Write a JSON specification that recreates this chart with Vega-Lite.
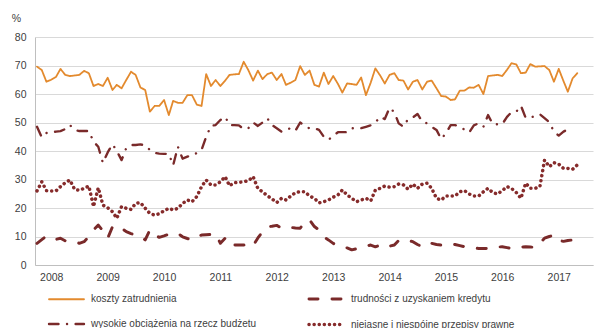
{
"$schema":"https://vega.github.io/schema/vega-lite/v6.json",
"width":558,"height":228,
"autosize":{"type":"none"},
"padding":{"left":35,"top":37,"right":3,"bottom":63},
"background":"white",
"config":{"view":{"stroke":null},"font":"Liberation Sans",
 "axis":{"labelFont":"Liberation Sans","labelFontSize":10.5,"labelColor":"#404040","ticks":false,"domainColor":"#bfbfbf","gridColor":"#d9d9d9","titleFont":"Liberation Sans"},
 "legend":{"title":null,"orient":"none","legendX":12,"legendY":243,"columns":2,"symbolType":"stroke","symbolSize":1225,"labelFontSize":10,"labelColor":"#404040","labelFont":"Liberation Sans","columnPadding":45,"rowPadding":-18,"labelOffset":5,"labelLimit":300}},
"data":{"values":[
{"d":"2007-10","s":"koszty zatrudnienia","v":69.6},{"d":"2007-11","s":"koszty zatrudnienia","v":68.4},{"d":"2007-12","s":"koszty zatrudnienia","v":64.3},
{"d":"2008-01","s":"koszty zatrudnienia","v":65.0},{"d":"2008-02","s":"koszty zatrudnienia","v":66.0},{"d":"2008-03","s":"koszty zatrudnienia","v":68.8},{"d":"2008-04","s":"koszty zatrudnienia","v":66.7},{"d":"2008-05","s":"koszty zatrudnienia","v":66.3},{"d":"2008-06","s":"koszty zatrudnienia","v":66.5},{"d":"2008-07","s":"koszty zatrudnienia","v":66.7},{"d":"2008-08","s":"koszty zatrudnienia","v":68.1},{"d":"2008-09","s":"koszty zatrudnienia","v":67.3},{"d":"2008-10","s":"koszty zatrudnienia","v":62.8},{"d":"2008-11","s":"koszty zatrudnienia","v":63.5},{"d":"2008-12","s":"koszty zatrudnienia","v":62.8},
{"d":"2009-01","s":"koszty zatrudnienia","v":65.7},{"d":"2009-02","s":"koszty zatrudnienia","v":61.4},{"d":"2009-03","s":"koszty zatrudnienia","v":63.2},{"d":"2009-04","s":"koszty zatrudnienia","v":62.0},{"d":"2009-05","s":"koszty zatrudnienia","v":64.9},{"d":"2009-06","s":"koszty zatrudnienia","v":67.8},{"d":"2009-07","s":"koszty zatrudnienia","v":66.7},{"d":"2009-08","s":"koszty zatrudnienia","v":62.3},{"d":"2009-09","s":"koszty zatrudnienia","v":61.4},{"d":"2009-10","s":"koszty zatrudnienia","v":53.8},{"d":"2009-11","s":"koszty zatrudnienia","v":55.8},{"d":"2009-12","s":"koszty zatrudnienia","v":55.8},
{"d":"2010-01","s":"koszty zatrudnienia","v":57.9},{"d":"2010-02","s":"koszty zatrudnienia","v":52.6},{"d":"2010-03","s":"koszty zatrudnienia","v":57.6},{"d":"2010-04","s":"koszty zatrudnienia","v":56.9},{"d":"2010-05","s":"koszty zatrudnienia","v":56.9},{"d":"2010-06","s":"koszty zatrudnienia","v":59.6},{"d":"2010-07","s":"koszty zatrudnienia","v":59.6},{"d":"2010-08","s":"koszty zatrudnienia","v":56.3},{"d":"2010-09","s":"koszty zatrudnienia","v":55.8},{"d":"2010-10","s":"koszty zatrudnienia","v":67.0},{"d":"2010-11","s":"koszty zatrudnienia","v":62.8},{"d":"2010-12","s":"koszty zatrudnienia","v":64.9},
{"d":"2011-01","s":"koszty zatrudnienia","v":62.8},{"d":"2011-02","s":"koszty zatrudnienia","v":64.7},{"d":"2011-03","s":"koszty zatrudnienia","v":66.7},{"d":"2011-04","s":"koszty zatrudnienia","v":66.9},{"d":"2011-05","s":"koszty zatrudnienia","v":67.0},{"d":"2011-06","s":"koszty zatrudnienia","v":71.3},{"d":"2011-07","s":"koszty zatrudnienia","v":68.4},{"d":"2011-08","s":"koszty zatrudnienia","v":64.7},{"d":"2011-09","s":"koszty zatrudnienia","v":68.2},{"d":"2011-10","s":"koszty zatrudnienia","v":65.2},{"d":"2011-11","s":"koszty zatrudnienia","v":67.0},{"d":"2011-12","s":"koszty zatrudnienia","v":67.5},
{"d":"2012-01","s":"koszty zatrudnienia","v":64.9},{"d":"2012-02","s":"koszty zatrudnienia","v":67.0},{"d":"2012-03","s":"koszty zatrudnienia","v":63.2},{"d":"2012-04","s":"koszty zatrudnienia","v":64.0},{"d":"2012-05","s":"koszty zatrudnienia","v":64.9},{"d":"2012-06","s":"koszty zatrudnienia","v":69.8},{"d":"2012-07","s":"koszty zatrudnienia","v":66.7},{"d":"2012-08","s":"koszty zatrudnienia","v":68.2},{"d":"2012-09","s":"koszty zatrudnienia","v":63.2},{"d":"2012-10","s":"koszty zatrudnienia","v":62.6},{"d":"2012-11","s":"koszty zatrudnienia","v":67.5},{"d":"2012-12","s":"koszty zatrudnienia","v":63.5},
{"d":"2013-01","s":"koszty zatrudnienia","v":66.3},{"d":"2013-02","s":"koszty zatrudnienia","v":63.5},{"d":"2013-03","s":"koszty zatrudnienia","v":60.5},{"d":"2013-04","s":"koszty zatrudnienia","v":63.7},{"d":"2013-05","s":"koszty zatrudnienia","v":63.5},{"d":"2013-06","s":"koszty zatrudnienia","v":63.2},{"d":"2013-07","s":"koszty zatrudnienia","v":65.8},{"d":"2013-08","s":"koszty zatrudnienia","v":59.6},{"d":"2013-09","s":"koszty zatrudnienia","v":64.0},{"d":"2013-10","s":"koszty zatrudnienia","v":69.0},{"d":"2013-11","s":"koszty zatrudnienia","v":66.5},{"d":"2013-12","s":"koszty zatrudnienia","v":63.7},
{"d":"2014-01","s":"koszty zatrudnienia","v":66.7},{"d":"2014-02","s":"koszty zatrudnienia","v":67.3},{"d":"2014-03","s":"koszty zatrudnienia","v":64.9},{"d":"2014-04","s":"koszty zatrudnienia","v":64.7},{"d":"2014-05","s":"koszty zatrudnienia","v":61.6},{"d":"2014-06","s":"koszty zatrudnienia","v":64.3},{"d":"2014-07","s":"koszty zatrudnienia","v":64.9},{"d":"2014-08","s":"koszty zatrudnienia","v":61.6},{"d":"2014-09","s":"koszty zatrudnienia","v":64.3},{"d":"2014-10","s":"koszty zatrudnienia","v":64.7},{"d":"2014-11","s":"koszty zatrudnienia","v":62.0},{"d":"2014-12","s":"koszty zatrudnienia","v":59.3},
{"d":"2015-01","s":"koszty zatrudnienia","v":59.1},{"d":"2015-02","s":"koszty zatrudnienia","v":57.9},{"d":"2015-03","s":"koszty zatrudnienia","v":58.1},{"d":"2015-04","s":"koszty zatrudnienia","v":61.2},{"d":"2015-05","s":"koszty zatrudnienia","v":61.2},{"d":"2015-06","s":"koszty zatrudnienia","v":62.3},{"d":"2015-07","s":"koszty zatrudnienia","v":62.2},{"d":"2015-08","s":"koszty zatrudnienia","v":63.2},{"d":"2015-09","s":"koszty zatrudnienia","v":60.0},{"d":"2015-10","s":"koszty zatrudnienia","v":66.3},{"d":"2015-11","s":"koszty zatrudnienia","v":66.5},{"d":"2015-12","s":"koszty zatrudnienia","v":66.7},
{"d":"2016-01","s":"koszty zatrudnienia","v":66.3},{"d":"2016-02","s":"koszty zatrudnienia","v":68.5},{"d":"2016-03","s":"koszty zatrudnienia","v":70.8},{"d":"2016-04","s":"koszty zatrudnienia","v":70.4},{"d":"2016-05","s":"koszty zatrudnienia","v":67.3},{"d":"2016-06","s":"koszty zatrudnienia","v":67.5},{"d":"2016-07","s":"koszty zatrudnienia","v":70.5},{"d":"2016-08","s":"koszty zatrudnienia","v":69.6},{"d":"2016-09","s":"koszty zatrudnienia","v":69.7},{"d":"2016-10","s":"koszty zatrudnienia","v":69.8},{"d":"2016-11","s":"koszty zatrudnienia","v":68.4},{"d":"2016-12","s":"koszty zatrudnienia","v":64.3},
{"d":"2017-01","s":"koszty zatrudnienia","v":68.8},{"d":"2017-02","s":"koszty zatrudnienia","v":64.5},{"d":"2017-03","s":"koszty zatrudnienia","v":60.8},{"d":"2017-04","s":"koszty zatrudnienia","v":65.5},{"d":"2017-05","s":"koszty zatrudnienia","v":67.3},

{"d":"2007-10","s":"trudności z uzyskaniem kredytu","v":7.6},{"d":"2007-11","s":"trudności z uzyskaniem kredytu","v":8.9},{"d":"2007-12","s":"trudności z uzyskaniem kredytu","v":10.2},
{"d":"2008-01","s":"trudności z uzyskaniem kredytu","v":9.5},{"d":"2008-02","s":"trudności z uzyskaniem kredytu","v":9.0},{"d":"2008-03","s":"trudności z uzyskaniem kredytu","v":9.4},{"d":"2008-04","s":"trudności z uzyskaniem kredytu","v":8.5},{"d":"2008-05","s":"trudności z uzyskaniem kredytu","v":8.4},{"d":"2008-06","s":"trudności z uzyskaniem kredytu","v":8.2},{"d":"2008-07","s":"trudności z uzyskaniem kredytu","v":7.6},{"d":"2008-08","s":"trudności z uzyskaniem kredytu","v":8.2},{"d":"2008-09","s":"trudności z uzyskaniem kredytu","v":10.0},{"d":"2008-10","s":"trudności z uzyskaniem kredytu","v":12.3},{"d":"2008-11","s":"trudności z uzyskaniem kredytu","v":14.0},{"d":"2008-12","s":"trudności z uzyskaniem kredytu","v":12.0},
{"d":"2009-01","s":"trudności z uzyskaniem kredytu","v":9.4},{"d":"2009-02","s":"trudności z uzyskaniem kredytu","v":13.4},{"d":"2009-03","s":"trudności z uzyskaniem kredytu","v":12.5},{"d":"2009-04","s":"trudności z uzyskaniem kredytu","v":12.9},{"d":"2009-05","s":"trudności z uzyskaniem kredytu","v":11.7},{"d":"2009-06","s":"trudności z uzyskaniem kredytu","v":11.0},{"d":"2009-07","s":"trudności z uzyskaniem kredytu","v":10.5},{"d":"2009-08","s":"trudności z uzyskaniem kredytu","v":10.2},{"d":"2009-09","s":"trudności z uzyskaniem kredytu","v":8.8},{"d":"2009-10","s":"trudności z uzyskaniem kredytu","v":12.3},{"d":"2009-11","s":"trudności z uzyskaniem kredytu","v":10.5},{"d":"2009-12","s":"trudności z uzyskaniem kredytu","v":9.7},
{"d":"2010-01","s":"trudności z uzyskaniem kredytu","v":10.2},{"d":"2010-02","s":"trudności z uzyskaniem kredytu","v":10.8},{"d":"2010-03","s":"trudności z uzyskaniem kredytu","v":11.1},{"d":"2010-04","s":"trudności z uzyskaniem kredytu","v":11.1},{"d":"2010-05","s":"trudności z uzyskaniem kredytu","v":9.9},{"d":"2010-06","s":"trudności z uzyskaniem kredytu","v":9.3},{"d":"2010-07","s":"trudności z uzyskaniem kredytu","v":8.8},{"d":"2010-08","s":"trudności z uzyskaniem kredytu","v":9.9},{"d":"2010-09","s":"trudności z uzyskaniem kredytu","v":10.5},{"d":"2010-10","s":"trudności z uzyskaniem kredytu","v":10.6},{"d":"2010-11","s":"trudności z uzyskaniem kredytu","v":10.7},{"d":"2010-12","s":"trudności z uzyskaniem kredytu","v":10.9},
{"d":"2011-01","s":"trudności z uzyskaniem kredytu","v":7.6},{"d":"2011-02","s":"trudności z uzyskaniem kredytu","v":9.4},{"d":"2011-03","s":"trudności z uzyskaniem kredytu","v":7.0},{"d":"2011-04","s":"trudności z uzyskaniem kredytu","v":7.0},{"d":"2011-05","s":"trudności z uzyskaniem kredytu","v":7.0},{"d":"2011-06","s":"trudności z uzyskaniem kredytu","v":7.0},{"d":"2011-07","s":"trudności z uzyskaniem kredytu","v":7.6},{"d":"2011-08","s":"trudności z uzyskaniem kredytu","v":6.8},{"d":"2011-09","s":"trudności z uzyskaniem kredytu","v":9.5},{"d":"2011-10","s":"trudności z uzyskaniem kredytu","v":11.7},{"d":"2011-11","s":"trudności z uzyskaniem kredytu","v":13.4},{"d":"2011-12","s":"trudności z uzyskaniem kredytu","v":13.6},
{"d":"2012-01","s":"trudności z uzyskaniem kredytu","v":13.9},{"d":"2012-02","s":"trudności z uzyskaniem kredytu","v":12.9},{"d":"2012-03","s":"trudności z uzyskaniem kredytu","v":13.0},{"d":"2012-04","s":"trudności z uzyskaniem kredytu","v":13.2},{"d":"2012-05","s":"trudności z uzyskaniem kredytu","v":13.0},{"d":"2012-06","s":"trudności z uzyskaniem kredytu","v":12.9},{"d":"2012-07","s":"trudności z uzyskaniem kredytu","v":15.2},{"d":"2012-08","s":"trudności z uzyskaniem kredytu","v":15.8},{"d":"2012-09","s":"trudności z uzyskaniem kredytu","v":13.5},{"d":"2012-10","s":"trudności z uzyskaniem kredytu","v":12.3},{"d":"2012-11","s":"trudności z uzyskaniem kredytu","v":9.8},{"d":"2012-12","s":"trudności z uzyskaniem kredytu","v":8.8},
{"d":"2013-01","s":"trudności z uzyskaniem kredytu","v":7.6},{"d":"2013-02","s":"trudności z uzyskaniem kredytu","v":6.7},{"d":"2013-03","s":"trudności z uzyskaniem kredytu","v":6.3},{"d":"2013-04","s":"trudności z uzyskaniem kredytu","v":6.0},{"d":"2013-05","s":"trudności z uzyskaniem kredytu","v":5.3},{"d":"2013-06","s":"trudności z uzyskaniem kredytu","v":5.7},{"d":"2013-07","s":"trudności z uzyskaniem kredytu","v":6.2},{"d":"2013-08","s":"trudności z uzyskaniem kredytu","v":6.6},{"d":"2013-09","s":"trudności z uzyskaniem kredytu","v":7.0},{"d":"2013-10","s":"trudności z uzyskaniem kredytu","v":6.4},{"d":"2013-11","s":"trudności z uzyskaniem kredytu","v":6.9},{"d":"2013-12","s":"trudności z uzyskaniem kredytu","v":7.4},
{"d":"2014-01","s":"trudności z uzyskaniem kredytu","v":6.6},{"d":"2014-02","s":"trudności z uzyskaniem kredytu","v":7.0},{"d":"2014-03","s":"trudności z uzyskaniem kredytu","v":8.6},{"d":"2014-04","s":"trudności z uzyskaniem kredytu","v":8.2},{"d":"2014-05","s":"trudności z uzyskaniem kredytu","v":8.6},{"d":"2014-06","s":"trudności z uzyskaniem kredytu","v":8.2},{"d":"2014-07","s":"trudności z uzyskaniem kredytu","v":7.2},{"d":"2014-08","s":"trudności z uzyskaniem kredytu","v":6.4},{"d":"2014-09","s":"trudności z uzyskaniem kredytu","v":7.5},{"d":"2014-10","s":"trudności z uzyskaniem kredytu","v":7.6},{"d":"2014-11","s":"trudności z uzyskaniem kredytu","v":7.2},{"d":"2014-12","s":"trudności z uzyskaniem kredytu","v":7.0},
{"d":"2015-01","s":"trudności z uzyskaniem kredytu","v":7.2},{"d":"2015-02","s":"trudności z uzyskaniem kredytu","v":7.4},{"d":"2015-03","s":"trudności z uzyskaniem kredytu","v":7.2},{"d":"2015-04","s":"trudności z uzyskaniem kredytu","v":6.8},{"d":"2015-05","s":"trudności z uzyskaniem kredytu","v":6.4},{"d":"2015-06","s":"trudności z uzyskaniem kredytu","v":6.2},{"d":"2015-07","s":"trudności z uzyskaniem kredytu","v":6.0},{"d":"2015-08","s":"trudności z uzyskaniem kredytu","v":5.8},{"d":"2015-09","s":"trudności z uzyskaniem kredytu","v":5.8},{"d":"2015-10","s":"trudności z uzyskaniem kredytu","v":5.8},{"d":"2015-11","s":"trudności z uzyskaniem kredytu","v":6.0},{"d":"2015-12","s":"trudności z uzyskaniem kredytu","v":6.3},
{"d":"2016-01","s":"trudności z uzyskaniem kredytu","v":6.4},{"d":"2016-02","s":"trudności z uzyskaniem kredytu","v":6.1},{"d":"2016-03","s":"trudności z uzyskaniem kredytu","v":5.8},{"d":"2016-04","s":"trudności z uzyskaniem kredytu","v":6.0},{"d":"2016-05","s":"trudności z uzyskaniem kredytu","v":6.3},{"d":"2016-06","s":"trudności z uzyskaniem kredytu","v":6.4},{"d":"2016-07","s":"trudności z uzyskaniem kredytu","v":6.3},{"d":"2016-08","s":"trudności z uzyskaniem kredytu","v":6.2},{"d":"2016-09","s":"trudności z uzyskaniem kredytu","v":7.6},{"d":"2016-10","s":"trudności z uzyskaniem kredytu","v":9.4},{"d":"2016-11","s":"trudności z uzyskaniem kredytu","v":10.0},{"d":"2016-12","s":"trudności z uzyskaniem kredytu","v":10.5},
{"d":"2017-01","s":"trudności z uzyskaniem kredytu","v":8.6},{"d":"2017-02","s":"trudności z uzyskaniem kredytu","v":8.3},{"d":"2017-03","s":"trudności z uzyskaniem kredytu","v":8.6},{"d":"2017-04","s":"trudności z uzyskaniem kredytu","v":8.8},{"d":"2017-05","s":"trudności z uzyskaniem kredytu","v":7.6},

{"d":"2007-10","s":"wysokie obciążenia na rzecz budżetu","v":48.5},{"d":"2007-11","s":"wysokie obciążenia na rzecz budżetu","v":44.8},{"d":"2007-12","s":"wysokie obciążenia na rzecz budżetu","v":46.3},
{"d":"2008-01","s":"wysokie obciążenia na rzecz budżetu","v":46.5},{"d":"2008-02","s":"wysokie obciążenia na rzecz budżetu","v":46.8},{"d":"2008-03","s":"wysokie obciążenia na rzecz budżetu","v":47.0},{"d":"2008-04","s":"wysokie obciążenia na rzecz budżetu","v":47.7},{"d":"2008-05","s":"wysokie obciążenia na rzecz budżetu","v":49.1},{"d":"2008-06","s":"wysokie obciążenia na rzecz budżetu","v":47.4},{"d":"2008-07","s":"wysokie obciążenia na rzecz budżetu","v":47.0},{"d":"2008-08","s":"wysokie obciążenia na rzecz budżetu","v":47.0},{"d":"2008-09","s":"wysokie obciążenia na rzecz budżetu","v":47.0},{"d":"2008-10","s":"wysokie obciążenia na rzecz budżetu","v":43.3},{"d":"2008-11","s":"wysokie obciążenia na rzecz budżetu","v":41.5},{"d":"2008-12","s":"wysokie obciążenia na rzecz budżetu","v":35.8},
{"d":"2009-01","s":"wysokie obciążenia na rzecz budżetu","v":39.5},{"d":"2009-02","s":"wysokie obciążenia na rzecz budżetu","v":42.4},{"d":"2009-03","s":"wysokie obciążenia na rzecz budżetu","v":40.0},{"d":"2009-04","s":"wysokie obciążenia na rzecz budżetu","v":36.8},{"d":"2009-05","s":"wysokie obciążenia na rzecz budżetu","v":41.0},{"d":"2009-06","s":"wysokie obciążenia na rzecz budżetu","v":42.1},{"d":"2009-07","s":"wysokie obciążenia na rzecz budżetu","v":42.1},{"d":"2009-08","s":"wysokie obciążenia na rzecz budżetu","v":42.3},{"d":"2009-09","s":"wysokie obciążenia na rzecz budżetu","v":42.0},{"d":"2009-10","s":"wysokie obciążenia na rzecz budżetu","v":40.4},{"d":"2009-11","s":"wysokie obciążenia na rzecz budżetu","v":39.3},{"d":"2009-12","s":"wysokie obciążenia na rzecz budżetu","v":39.1},
{"d":"2010-01","s":"wysokie obciążenia na rzecz budżetu","v":39.0},{"d":"2010-02","s":"wysokie obciążenia na rzecz budżetu","v":39.0},{"d":"2010-03","s":"wysokie obciążenia na rzecz budżetu","v":35.0},{"d":"2010-04","s":"wysokie obciążenia na rzecz budżetu","v":41.5},{"d":"2010-05","s":"wysokie obciążenia na rzecz budżetu","v":37.3},{"d":"2010-06","s":"wysokie obciążenia na rzecz budżetu","v":38.0},{"d":"2010-07","s":"wysokie obciążenia na rzecz budżetu","v":38.8},{"d":"2010-08","s":"wysokie obciążenia na rzecz budżetu","v":39.2},{"d":"2010-09","s":"wysokie obciążenia na rzecz budżetu","v":40.4},{"d":"2010-10","s":"wysokie obciążenia na rzecz budżetu","v":45.0},{"d":"2010-11","s":"wysokie obciążenia na rzecz budżetu","v":48.8},{"d":"2010-12","s":"wysokie obciążenia na rzecz budżetu","v":49.1},
{"d":"2011-01","s":"wysokie obciążenia na rzecz budżetu","v":50.9},{"d":"2011-02","s":"wysokie obciążenia na rzecz budżetu","v":52.0},{"d":"2011-03","s":"wysokie obciążenia na rzecz budżetu","v":49.1},{"d":"2011-04","s":"wysokie obciążenia na rzecz budżetu","v":49.1},{"d":"2011-05","s":"wysokie obciążenia na rzecz budżetu","v":49.0},{"d":"2011-06","s":"wysokie obciążenia na rzecz budżetu","v":47.7},{"d":"2011-07","s":"wysokie obciążenia na rzecz budżetu","v":48.0},{"d":"2011-08","s":"wysokie obciążenia na rzecz budżetu","v":50.0},{"d":"2011-09","s":"wysokie obciążenia na rzecz budżetu","v":48.8},{"d":"2011-10","s":"wysokie obciążenia na rzecz budżetu","v":50.0},{"d":"2011-11","s":"wysokie obciążenia na rzecz budżetu","v":51.5},{"d":"2011-12","s":"wysokie obciążenia na rzecz budżetu","v":49.1},
{"d":"2012-01","s":"wysokie obciążenia na rzecz budżetu","v":48.0},{"d":"2012-02","s":"wysokie obciążenia na rzecz budżetu","v":46.8},{"d":"2012-03","s":"wysokie obciążenia na rzecz budżetu","v":47.5},{"d":"2012-04","s":"wysokie obciążenia na rzecz budżetu","v":48.0},{"d":"2012-05","s":"wysokie obciążenia na rzecz budżetu","v":47.1},{"d":"2012-06","s":"wysokie obciążenia na rzecz budżetu","v":50.0},{"d":"2012-07","s":"wysokie obciążenia na rzecz budżetu","v":48.9},{"d":"2012-08","s":"wysokie obciążenia na rzecz budżetu","v":47.9},{"d":"2012-09","s":"wysokie obciążenia na rzecz budżetu","v":48.0},{"d":"2012-10","s":"wysokie obciążenia na rzecz budżetu","v":47.4},{"d":"2012-11","s":"wysokie obciążenia na rzecz budżetu","v":45.0},{"d":"2012-12","s":"wysokie obciążenia na rzecz budżetu","v":43.9},
{"d":"2013-01","s":"wysokie obciążenia na rzecz budżetu","v":45.3},{"d":"2013-02","s":"wysokie obciążenia na rzecz budżetu","v":46.6},{"d":"2013-03","s":"wysokie obciążenia na rzecz budżetu","v":46.6},{"d":"2013-04","s":"wysokie obciążenia na rzecz budżetu","v":46.6},{"d":"2013-05","s":"wysokie obciążenia na rzecz budżetu","v":48.0},{"d":"2013-06","s":"wysokie obciążenia na rzecz budżetu","v":48.0},{"d":"2013-07","s":"wysokie obciążenia na rzecz budżetu","v":48.0},{"d":"2013-08","s":"wysokie obciążenia na rzecz budżetu","v":48.5},{"d":"2013-09","s":"wysokie obciążenia na rzecz budżetu","v":49.0},{"d":"2013-10","s":"wysokie obciążenia na rzecz budżetu","v":50.0},{"d":"2013-11","s":"wysokie obciążenia na rzecz budżetu","v":52.0},{"d":"2013-12","s":"wysokie obciążenia na rzecz budżetu","v":51.2},
{"d":"2014-01","s":"wysokie obciążenia na rzecz budżetu","v":55.2},{"d":"2014-02","s":"wysokie obciążenia na rzecz budżetu","v":53.6},{"d":"2014-03","s":"wysokie obciążenia na rzecz budżetu","v":49.7},{"d":"2014-04","s":"wysokie obciążenia na rzecz budżetu","v":48.5},{"d":"2014-05","s":"wysokie obciążenia na rzecz budżetu","v":51.2},{"d":"2014-06","s":"wysokie obciążenia na rzecz budżetu","v":51.8},{"d":"2014-07","s":"wysokie obciążenia na rzecz budżetu","v":53.0},{"d":"2014-08","s":"wysokie obciążenia na rzecz budżetu","v":50.3},{"d":"2014-09","s":"wysokie obciążenia na rzecz budżetu","v":49.7},{"d":"2014-10","s":"wysokie obciążenia na rzecz budżetu","v":48.5},{"d":"2014-11","s":"wysokie obciążenia na rzecz budżetu","v":47.4},{"d":"2014-12","s":"wysokie obciążenia na rzecz budżetu","v":44.2},
{"d":"2015-01","s":"wysokie obciążenia na rzecz budżetu","v":46.2},{"d":"2015-02","s":"wysokie obciążenia na rzecz budżetu","v":49.1},{"d":"2015-03","s":"wysokie obciążenia na rzecz budżetu","v":49.1},{"d":"2015-04","s":"wysokie obciążenia na rzecz budżetu","v":48.5},{"d":"2015-05","s":"wysokie obciążenia na rzecz budżetu","v":47.5},{"d":"2015-06","s":"wysokie obciążenia na rzecz budżetu","v":46.5},{"d":"2015-07","s":"wysokie obciążenia na rzecz budżetu","v":49.0},{"d":"2015-08","s":"wysokie obciążenia na rzecz budżetu","v":49.7},{"d":"2015-09","s":"wysokie obciążenia na rzecz budżetu","v":48.5},{"d":"2015-10","s":"wysokie obciążenia na rzecz budżetu","v":52.6},{"d":"2015-11","s":"wysokie obciążenia na rzecz budżetu","v":49.4},{"d":"2015-12","s":"wysokie obciążenia na rzecz budżetu","v":49.4},
{"d":"2016-01","s":"wysokie obciążenia na rzecz budżetu","v":49.4},{"d":"2016-02","s":"wysokie obciążenia na rzecz budżetu","v":52.0},{"d":"2016-03","s":"wysokie obciążenia na rzecz budżetu","v":53.6},{"d":"2016-04","s":"wysokie obciążenia na rzecz budżetu","v":53.8},{"d":"2016-05","s":"wysokie obciążenia na rzecz budżetu","v":55.9},{"d":"2016-06","s":"wysokie obciążenia na rzecz budżetu","v":51.6},{"d":"2016-07","s":"wysokie obciążenia na rzecz budżetu","v":51.7},{"d":"2016-08","s":"wysokie obciążenia na rzecz budżetu","v":52.3},{"d":"2016-09","s":"wysokie obciążenia na rzecz budżetu","v":52.9},{"d":"2016-10","s":"wysokie obciążenia na rzecz budżetu","v":51.5},{"d":"2016-11","s":"wysokie obciążenia na rzecz budżetu","v":50.1},{"d":"2016-12","s":"wysokie obciążenia na rzecz budżetu","v":46.8},
{"d":"2017-01","s":"wysokie obciążenia na rzecz budżetu","v":45.4},{"d":"2017-02","s":"wysokie obciążenia na rzecz budżetu","v":46.8},{"d":"2017-03","s":"wysokie obciążenia na rzecz budżetu","v":47.6},{"d":"2017-04","s":"wysokie obciążenia na rzecz budżetu","v":48.0},

{"d":"2007-10","s":"niejasne i niespójne przepisy prawne","v":26.0},{"d":"2007-11","s":"niejasne i niespójne przepisy prawne","v":29.2},{"d":"2007-12","s":"niejasne i niespójne przepisy prawne","v":26.1},
{"d":"2008-01","s":"niejasne i niespójne przepisy prawne","v":26.0},{"d":"2008-02","s":"niejasne i niespójne przepisy prawne","v":26.0},{"d":"2008-03","s":"niejasne i niespójne przepisy prawne","v":27.5},{"d":"2008-04","s":"niejasne i niespójne przepisy prawne","v":28.9},{"d":"2008-05","s":"niejasne i niespójne przepisy prawne","v":29.8},{"d":"2008-06","s":"niejasne i niespójne przepisy prawne","v":26.5},{"d":"2008-07","s":"niejasne i niespójne przepisy prawne","v":26.2},{"d":"2008-08","s":"niejasne i niespójne przepisy prawne","v":26.9},{"d":"2008-09","s":"niejasne i niespójne przepisy prawne","v":27.7},{"d":"2008-10","s":"niejasne i niespójne przepisy prawne","v":20.5},{"d":"2008-11","s":"niejasne i niespójne przepisy prawne","v":27.1},{"d":"2008-12","s":"niejasne i niespójne przepisy prawne","v":21.0},
{"d":"2009-01","s":"niejasne i niespójne przepisy prawne","v":20.1},{"d":"2009-02","s":"niejasne i niespójne przepisy prawne","v":18.7},{"d":"2009-03","s":"niejasne i niespójne przepisy prawne","v":16.4},{"d":"2009-04","s":"niejasne i niespójne przepisy prawne","v":20.5},{"d":"2009-05","s":"niejasne i niespójne przepisy prawne","v":19.9},{"d":"2009-06","s":"niejasne i niespójne przepisy prawne","v":19.5},{"d":"2009-07","s":"niejasne i niespójne przepisy prawne","v":21.6},{"d":"2009-08","s":"niejasne i niespójne przepisy prawne","v":21.9},{"d":"2009-09","s":"niejasne i niespójne przepisy prawne","v":19.9},{"d":"2009-10","s":"niejasne i niespójne przepisy prawne","v":18.1},{"d":"2009-11","s":"niejasne i niespójne przepisy prawne","v":17.5},{"d":"2009-12","s":"niejasne i niespójne przepisy prawne","v":18.0},
{"d":"2010-01","s":"niejasne i niespójne przepisy prawne","v":19.0},{"d":"2010-02","s":"niejasne i niespójne przepisy prawne","v":19.9},{"d":"2010-03","s":"niejasne i niespójne przepisy prawne","v":19.3},{"d":"2010-04","s":"niejasne i niespójne przepisy prawne","v":19.9},{"d":"2010-05","s":"niejasne i niespójne przepisy prawne","v":21.6},{"d":"2010-06","s":"niejasne i niespójne przepisy prawne","v":22.8},{"d":"2010-07","s":"niejasne i niespójne przepisy prawne","v":22.2},{"d":"2010-08","s":"niejasne i niespójne przepisy prawne","v":24.0},{"d":"2010-09","s":"niejasne i niespójne przepisy prawne","v":27.5},{"d":"2010-10","s":"niejasne i niespójne przepisy prawne","v":29.8},{"d":"2010-11","s":"niejasne i niespójne przepisy prawne","v":28.1},{"d":"2010-12","s":"niejasne i niespójne przepisy prawne","v":28.1},
{"d":"2011-01","s":"niejasne i niespójne przepisy prawne","v":29.2},{"d":"2011-02","s":"niejasne i niespójne przepisy prawne","v":31.0},{"d":"2011-03","s":"niejasne i niespójne przepisy prawne","v":27.8},{"d":"2011-04","s":"niejasne i niespójne przepisy prawne","v":28.9},{"d":"2011-05","s":"niejasne i niespójne przepisy prawne","v":29.0},{"d":"2011-06","s":"niejasne i niespójne przepisy prawne","v":29.2},{"d":"2011-07","s":"niejasne i niespójne przepisy prawne","v":29.6},{"d":"2011-08","s":"niejasne i niespójne przepisy prawne","v":31.0},{"d":"2011-09","s":"niejasne i niespójne przepisy prawne","v":26.8},{"d":"2011-10","s":"niejasne i niespójne przepisy prawne","v":25.7},{"d":"2011-11","s":"niejasne i niespójne przepisy prawne","v":24.3},{"d":"2011-12","s":"niejasne i niespójne przepisy prawne","v":23.2},
{"d":"2012-01","s":"niejasne i niespójne przepisy prawne","v":21.9},{"d":"2012-02","s":"niejasne i niespójne przepisy prawne","v":23.4},{"d":"2012-03","s":"niejasne i niespójne przepisy prawne","v":22.8},{"d":"2012-04","s":"niejasne i niespójne przepisy prawne","v":24.2},{"d":"2012-05","s":"niejasne i niespójne przepisy prawne","v":25.4},{"d":"2012-06","s":"niejasne i niespójne przepisy prawne","v":25.7},{"d":"2012-07","s":"niejasne i niespójne przepisy prawne","v":25.7},{"d":"2012-08","s":"niejasne i niespójne przepisy prawne","v":24.2},{"d":"2012-09","s":"niejasne i niespójne przepisy prawne","v":23.4},{"d":"2012-10","s":"niejasne i niespójne przepisy prawne","v":21.8},{"d":"2012-11","s":"niejasne i niespójne przepisy prawne","v":22.2},{"d":"2012-12","s":"niejasne i niespójne przepisy prawne","v":22.8},
{"d":"2013-01","s":"niejasne i niespójne przepisy prawne","v":23.8},{"d":"2013-02","s":"niejasne i niespójne przepisy prawne","v":24.6},{"d":"2013-03","s":"niejasne i niespójne przepisy prawne","v":26.3},{"d":"2013-04","s":"niejasne i niespójne przepisy prawne","v":24.6},{"d":"2013-05","s":"niejasne i niespójne przepisy prawne","v":23.4},{"d":"2013-06","s":"niejasne i niespójne przepisy prawne","v":22.2},{"d":"2013-07","s":"niejasne i niespójne przepisy prawne","v":22.8},{"d":"2013-08","s":"niejasne i niespójne przepisy prawne","v":23.4},{"d":"2013-09","s":"niejasne i niespójne przepisy prawne","v":22.5},{"d":"2013-10","s":"niejasne i niespójne przepisy prawne","v":26.3},{"d":"2013-11","s":"niejasne i niespójne przepisy prawne","v":26.9},{"d":"2013-12","s":"niejasne i niespójne przepisy prawne","v":27.7},
{"d":"2014-01","s":"niejasne i niespójne przepisy prawne","v":27.3},{"d":"2014-02","s":"niejasne i niespójne przepisy prawne","v":27.5},{"d":"2014-03","s":"niejasne i niespójne przepisy prawne","v":28.4},{"d":"2014-04","s":"niejasne i niespójne przepisy prawne","v":28.1},{"d":"2014-05","s":"niejasne i niespójne przepisy prawne","v":26.6},{"d":"2014-06","s":"niejasne i niespójne przepisy prawne","v":28.4},{"d":"2014-07","s":"niejasne i niespójne przepisy prawne","v":26.9},{"d":"2014-08","s":"niejasne i niespójne przepisy prawne","v":28.4},{"d":"2014-09","s":"niejasne i niespójne przepisy prawne","v":28.7},{"d":"2014-10","s":"niejasne i niespójne przepisy prawne","v":26.9},{"d":"2014-11","s":"niejasne i niespójne przepisy prawne","v":23.4},{"d":"2014-12","s":"niejasne i niespójne przepisy prawne","v":22.8},
{"d":"2015-01","s":"niejasne i niespójne przepisy prawne","v":24.2},{"d":"2015-02","s":"niejasne i niespójne przepisy prawne","v":24.2},{"d":"2015-03","s":"niejasne i niespójne przepisy prawne","v":24.2},{"d":"2015-04","s":"niejasne i niespójne przepisy prawne","v":25.7},{"d":"2015-05","s":"niejasne i niespójne przepisy prawne","v":26.1},{"d":"2015-06","s":"niejasne i niespójne przepisy prawne","v":24.9},{"d":"2015-07","s":"niejasne i niespójne przepisy prawne","v":24.2},{"d":"2015-08","s":"niejasne i niespójne przepisy prawne","v":24.2},{"d":"2015-09","s":"niejasne i niespójne przepisy prawne","v":25.7},{"d":"2015-10","s":"niejasne i niespójne przepisy prawne","v":26.9},{"d":"2015-11","s":"niejasne i niespójne przepisy prawne","v":25.4},{"d":"2015-12","s":"niejasne i niespójne przepisy prawne","v":24.9},
{"d":"2016-01","s":"niejasne i niespójne przepisy prawne","v":26.1},{"d":"2016-02","s":"niejasne i niespójne przepisy prawne","v":27.5},{"d":"2016-03","s":"niejasne i niespójne przepisy prawne","v":26.9},{"d":"2016-04","s":"niejasne i niespójne przepisy prawne","v":25.4},{"d":"2016-05","s":"niejasne i niespójne przepisy prawne","v":23.4},{"d":"2016-06","s":"niejasne i niespójne przepisy prawne","v":28.7},{"d":"2016-07","s":"niejasne i niespójne przepisy prawne","v":26.9},{"d":"2016-08","s":"niejasne i niespójne przepisy prawne","v":26.9},{"d":"2016-09","s":"niejasne i niespójne przepisy prawne","v":27.5},{"d":"2016-10","s":"niejasne i niespójne przepisy prawne","v":36.8},{"d":"2016-11","s":"niejasne i niespójne przepisy prawne","v":34.5},{"d":"2016-12","s":"niejasne i niespójne przepisy prawne","v":35.9},
{"d":"2017-01","s":"niejasne i niespójne przepisy prawne","v":35.4},{"d":"2017-02","s":"niejasne i niespójne przepisy prawne","v":33.9},{"d":"2017-03","s":"niejasne i niespójne przepisy prawne","v":33.9},{"d":"2017-04","s":"niejasne i niespójne przepisy prawne","v":33.6},{"d":"2017-05","s":"niejasne i niespójne przepisy prawne","v":35.1}
]},
"mark":{"type":"line","strokeCap":"round","strokeJoin":"round"},
"encoding":{
 "x":{"field":"d","type":"temporal",
   "scale":{"type":"utc","domain":[{"year":2007,"month":9,"date":18,"utc":true},{"year":2017,"month":8,"date":11,"utc":true}]},
   "axis":{"title":null,"format":"%Y","grid":false,"labelPadding":7,"labelFlush":false,"labelOverlap":false,
     "values":[{"year":2008,"month":1,"date":1,"utc":true},{"year":2009,"month":1,"date":1,"utc":true},{"year":2010,"month":1,"date":1,"utc":true},{"year":2011,"month":1,"date":1,"utc":true},{"year":2012,"month":1,"date":1,"utc":true},{"year":2013,"month":1,"date":1,"utc":true},{"year":2014,"month":1,"date":1,"utc":true},{"year":2015,"month":1,"date":1,"utc":true},{"year":2016,"month":1,"date":1,"utc":true},{"year":2017,"month":1,"date":1,"utc":true}]}},
 "y":{"field":"v","type":"quantitative","scale":{"domain":[0,80],"nice":false},
   "axis":{"values":[0,10,20,30,40,50,60,70,80],"grid":true,"labelPadding":9,"title":"%","titleAngle":0,"titleAlign":"center","titleBaseline":"middle","titleX":-19,"titleY":-19,"titleFontSize":10.5,"titleFontWeight":"normal","titleColor":"#404040"}},
 "color":{"field":"s","type":"nominal",
   "scale":{"domain":["koszty zatrudnienia","wysokie obciążenia na rzecz budżetu","trudności z uzyskaniem kredytu","niejasne i niespójne przepisy prawne"],"range":["#E38A2E","#7A2A2A","#7A2A2A","#862B2B"]},
   "legend":{"encode":{"symbols":{"update":{"strokeCap":{"value":"round"}}}}}},
 "strokeDash":{"field":"s","type":"nominal",
   "scale":{"domain":["koszty zatrudnienia","wysokie obciążenia na rzecz budżetu","trudności z uzyskaniem kredytu","niejasne i niespójne przepisy prawne"],"range":[[1,0],[9.5,8.5,0.1,8.5],[9,14],[0.1,5]]}},
 "strokeWidth":{"field":"s","type":"nominal",
   "scale":{"domain":["koszty zatrudnienia","wysokie obciążenia na rzecz budżetu","trudności z uzyskaniem kredytu","niejasne i niespójne przepisy prawne"],"range":[1.8,3.5,4,2.3]}}
}
}
